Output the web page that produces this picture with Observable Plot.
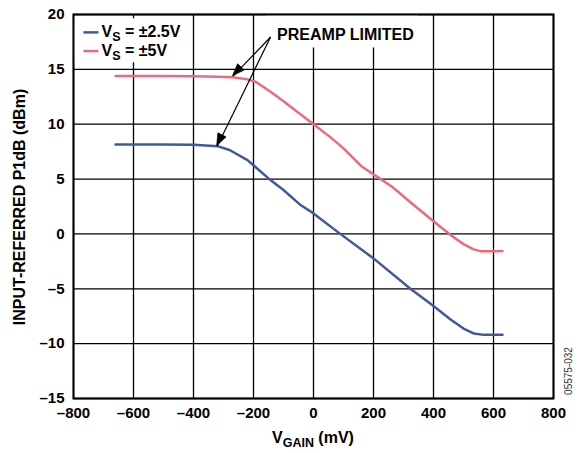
<!DOCTYPE html>
<html><head><meta charset="utf-8">
<script src="https://cdn.jsdelivr.net/npm/d3@7"></script>
<script src="https://cdn.jsdelivr.net/npm/@observablehq/plot@0.6"></script>
<style>body{margin:0;background:#fff} svg{display:block}</style>
</head><body><div id="chart"></div>
<script>
// ---- data ----
const xTicks = [-800, -600, -400, -200, 0, 200, 400, 600, 800];
const yTicks = [-15, -10, -5, 0, 5, 10, 15, 20];
const seriesNames = ["VS = ±2.5V", "VS = ±5V"];
const seriesColors = ["#41589f", "#ea6b7c"];

const vgain25 = [-660, -500, -400, -320, -280, -220, -150, -100, -43, 0, 87, 200, 323, 400, 457, 500, 534, 568, 630];
const p1db25  = [8.15, 8.15, 8.12, 8.0, 7.65, 6.73, 5.06, 4.0, 2.63, 1.87, 0.05, -2.23, -5.0, -6.58, -7.8, -8.62, -9.07, -9.2, -9.2];

const vgain5 = [-660, -500, -400, -320, -266, -221, -193, -143, -100, 0, 57, 100, 162, 200, 262, 334, 400, 457, 500, 534, 557, 600, 630];
const p1db5  = [14.4, 14.4, 14.38, 14.32, 14.27, 14.09, 13.87, 12.96, 12.1, 10.0, 8.8, 7.8, 6.12, 5.43, 4.3, 2.63, 1.15, -0.1, -0.93, -1.41, -1.57, -1.57, -1.55];

// annotation anchors (data coordinates)
const annotationText = "PREAMP LIMITED";
const arrowStart = {x: -143, y: 17.95};
const arrowTips = [{x: -268, y: 14.39}, {x: -321, y: 8.0}];

// ---- build ----
const FONT = "'Liberation Sans', Arial, Helvetica, sans-serif";
const fmt = d => d < 0 ? "\u2013" + Math.abs(d) : String(d);

const rows = [
  ...vgain25.map((x, i) => ({x, y: p1db25[i], s: seriesNames[0]})),
  ...vgain5.map((x, i) => ({x, y: p1db5[i], s: seriesNames[1]}))
];
const arrows = arrowTips.map(t => ({x1: arrowStart.x, y1: arrowStart.y, x2: t.x, y2: t.y}));
const boxes = [
  {x1: -797, x2: -410, y1: 15.6, y2: 19.6},
  {x1: -157, x2: 350, y1: 16.95, y2: 19.9}
];
const legendRows = [
  {x1: -767, x2: -717, y: 18.37, s: seriesNames[0]},
  {x1: -767, x2: -717, y: 16.67, s: seriesNames[1]}
];

const plot = Plot.plot({
  width: 580, height: 453,
  marginLeft: 73, marginRight: 27, marginTop: 14, marginBottom: 55,
  x: {domain: [-800, 800]},
  y: {domain: [-15, 20]},
  color: {domain: seriesNames, range: seriesColors},
  style: {fontFamily: FONT, fontSize: "15px", fontWeight: "bold", color: "#000", background: "#fff"},
  marks: [
    Plot.gridX(xTicks, {stroke: "#000", strokeOpacity: 1, strokeWidth: 1.3}),
    Plot.gridY(yTicks, {stroke: "#000", strokeOpacity: 1, strokeWidth: 1.3}),
    Plot.rect(boxes, {x1: "x1", x2: "x2", y1: "y1", y2: "y2", fill: "#fff"}),
    Plot.line(rows, {x: "x", y: "y", z: "s", stroke: "s", strokeWidth: 2.5}),
    Plot.link(legendRows, {x1: "x1", x2: "x2", y1: "y", y2: "y", stroke: "s", strokeWidth: 2.5}),
    Plot.link(arrows, {x1: "x1", y1: "y1", x2: "x2", y2: "y2", stroke: "#000", strokeWidth: 1.2}),
    Plot.axisX(xTicks, {tickSize: 0, tickPadding: 9, tickFormat: fmt, label: null}),
    Plot.axisY(yTicks, {tickSize: 0, tickPadding: 9, tickFormat: fmt, label: null}),
    Plot.frame({stroke: "#000", strokeWidth: 2})
  ]
});

const sx = plot.scale("x"), sy = plot.scale("y");
const svg = d3.select(plot);

// filled arrowheads, placed through the scales
for (const a of arrows) {
  const px1 = sx.apply(a.x1), py1 = sy.apply(a.y1), px2 = sx.apply(a.x2), py2 = sy.apply(a.y2);
  const dx = px2 - px1, dy = py2 - py1, len = Math.hypot(dx, dy);
  const ux = dx / len, uy = dy / len, nx = -uy, ny = ux;
  const L = 12, W = 4.5;
  const bx = px2 - ux * L, by = py2 - uy * L;
  svg.append("path")
    .attr("d", `M${px2},${py2}L${bx + nx * W},${by + ny * W}L${bx - nx * W},${by - ny * W}Z`)
    .attr("fill", "#000").attr("stroke", "#000").attr("stroke-width", 0.8);
}

function richText(x, y, parts, opts = {}) {
  const size = opts.size || 16;
  const t = svg.append("text")
    .attr("x", x).attr("y", y)
    .attr("font-family", FONT).attr("font-weight", opts.weight || "bold")
    .attr("font-size", size)
    .attr("fill", opts.fill || "#000")
    .attr("text-anchor", opts.anchor || "start");
  if (opts.transform) t.attr("transform", opts.transform);
  let shift = 0;
  for (const p of parts) {
    const ts = t.append("tspan").text(p.t);
    const target = p.sub ? 4 : 0;
    if (target !== shift) { ts.attr("dy", target - shift); shift = target; }
    if (p.sub) ts.attr("font-size", size * 0.78);
  }
  return t;
}

// legend labels
richText(sx.apply(-705), sy.apply(18.37) + 5, [{t: "V"}, {t: "S", sub: true}, {t: " = ±2.5V"}]);
richText(sx.apply(-705), sy.apply(16.67) + 5, [{t: "V"}, {t: "S", sub: true}, {t: " = ±5V"}]);

// annotation
richText(sx.apply(arrowStart.x) + 7, sy.apply(arrowStart.y) + 4, [{t: annotationText}]);

// axis titles
richText(313, 443, [{t: "V"}, {t: "GAIN", sub: true}, {t: " (mV)"}], {anchor: "middle"});
richText(0, 0, [{t: "INPUT-REFERRED P1dB (dBm)"}], {anchor: "middle", transform: "translate(25,207) rotate(-90)"});
richText(0, 0, [{t: "05575-032"}], {anchor: "middle", weight: "normal", size: 10, fill: "#333", transform: "translate(572,371) rotate(-90)"});

document.getElementById("chart").appendChild(plot);
</script>
</body></html>
